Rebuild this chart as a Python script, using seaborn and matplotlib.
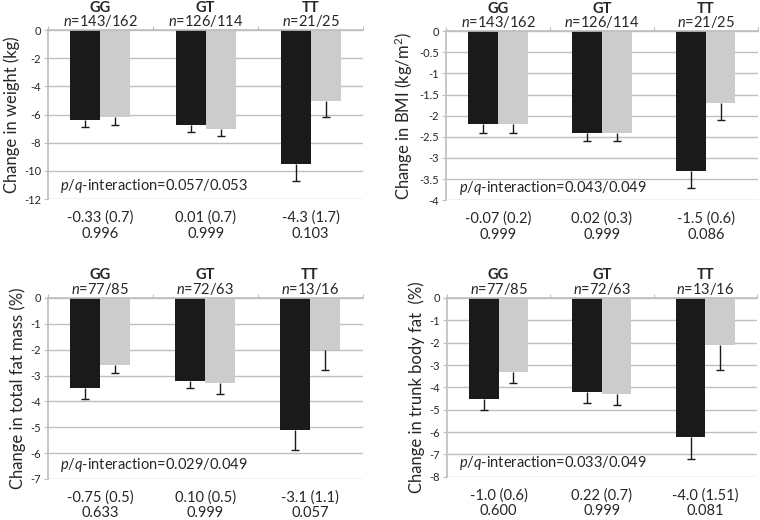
import pandas as pd
import seaborn as sns
import matplotlib.pyplot as plt

sns.set_theme(style="white")
plt.rcParams['font.family'] = ['Lato', 'DejaVu Sans']
plt.rcParams['axes.unicode_minus'] = False
plt.rcParams['mathtext.fontset'] = 'custom'
plt.rcParams['mathtext.it'] = 'Lato:italic'
plt.rcParams['mathtext.rm'] = 'Lato'

genotypes = ['GG', 'GT', 'TT']
diets = ['A', 'B']

# weight (kg)
weight_a = [-6.4, -6.7, -9.5]
weight_b = [-6.2, -7.0, -5.0]
weight_err_a = [0.5, 0.5, 1.2]
weight_err_b = [0.5, 0.5, 1.2]

# BMI (kg/m2)
bmi_a = [-2.2, -2.4, -3.3]
bmi_b = [-2.2, -2.4, -1.7]
bmi_err_a = [0.2, 0.2, 0.4]
bmi_err_b = [0.2, 0.2, 0.4]

# total fat mass (%)
fat_a = [-3.5, -3.2, -5.1]
fat_b = [-2.6, -3.3, -2.0]
fat_err_a = [0.4, 0.3, 0.8]
fat_err_b = [0.3, 0.4, 0.8]

# trunk body fat (%)
trunk_a = [-4.5, -4.2, -6.2]
trunk_b = [-3.3, -4.3, -2.1]
trunk_err_a = [0.5, 0.5, 1.0]
trunk_err_b = [0.5, 0.5, 1.1]

n_top = ['143/162', '126/114', '21/25']
n_bottom = ['77/85', '72/63', '13/16']

diff_weight = ['-0.33 (0.7)', '0.01 (0.7)', '-4.3 (1.7)']
q_weight = ['0.996', '0.999', '0.103']
diff_bmi = ['-0.07 (0.2)', '0.02 (0.3)', '-1.5 (0.6)']
q_bmi = ['0.999', '0.999', '0.086']
diff_fat = ['-0.75 (0.5)', '0.10 (0.5)', '-3.1 (1.1)']
q_fat = ['0.633', '0.999', '0.057']
diff_trunk = ['-1.0 (0.6)', '0.22 (0.7)', '-4.0 (1.51)']
q_trunk = ['0.600', '0.999', '0.081']

panels = [
    dict(a=weight_a, b=weight_b, ea=weight_err_a, eb=weight_err_b, n=n_top,
         diff=diff_weight, q=q_weight, ylim=-12, step=2,
         ylabel='Change in weight (kg)', inter='0.057/0.053',
         pos=[0.063, 0.617, 0.415, 0.325]),
    dict(a=bmi_a, b=bmi_b, ea=bmi_err_a, eb=bmi_err_b, n=n_top,
         diff=diff_bmi, q=q_bmi, ylim=-4, step=0.5,
         ylabel='Change in BMI (kg/m$^2$)', inter='0.043/0.049',
         pos=[0.587, 0.615, 0.410, 0.325]),
    dict(a=fat_a, b=fat_b, ea=fat_err_a, eb=fat_err_b, n=n_bottom,
         diff=diff_fat, q=q_fat, ylim=-7, step=1,
         ylabel='Change in total fat mass (%)', inter='0.029/0.049',
         pos=[0.063, 0.079, 0.414, 0.348]),
    dict(a=trunk_a, b=trunk_b, ea=trunk_err_a, eb=trunk_err_b, n=n_bottom,
         diff=diff_trunk, q=q_trunk, ylim=-8, step=1,
         ylabel='Change in trunk body fat  (%)', inter='0.033/0.049',
         pos=[0.588, 0.083, 0.408, 0.344]),
]

fig = plt.figure(figsize=(7.6, 5.2), dpi=100)
grid_col = '#bfbfbf'
fs = 10.5
px = 0.72  # points per pixel at 100 dpi

for p in panels:
    ax = fig.add_axes(p['pos'])
    df = pd.DataFrame({
        'Genotype': genotypes * 2,
        'Diet': [diets[0]] * 3 + [diets[1]] * 3,
        'Change': p['a'] + p['b'],
        'Err': p['ea'] + p['eb'],
    })
    sns.barplot(data=df, x='Genotype', y='Change', hue='Diet', order=genotypes,
                hue_order=diets, palette=['#1a1a1a', '#cccccc'], width=0.57,
                errorbar=None, legend=False, saturation=1, ax=ax, zorder=2,
                linewidth=0)

    # one-sided error bars below each bar
    for patch, (_, row) in zip(ax.patches, df.iterrows()):
        xc = patch.get_x() + patch.get_width() / 2
        yv = patch.get_y() + patch.get_height()
        y0 = min(patch.get_y(), yv)
        eb = ax.errorbar(xc, y0, yerr=[[row['Err']], [0]], fmt='none',
                         ecolor='#1a1a1a', elinewidth=1.0, capsize=3,
                         capthick=1.0, zorder=3)
        eb[1][1].set_visible(False)

    ax.set_ylim(p['ylim'], 0)
    ax.set_xlim(-0.5, 2.5)
    ticks = [p['ylim'] + i * p['step'] for i in range(int(round(-p['ylim'] / p['step'])) + 1)]
    ax.set_yticks(ticks)
    ax.set_yticklabels(['%g' % t for t in ticks], fontsize=8, color='#262626')
    ax.yaxis.grid(True, color=grid_col, linewidth=1.0, zorder=0)
    ax.set_axisbelow(True)
    ax.tick_params(axis='y', length=3, width=0.8, color=grid_col, left=True, pad=2)

    ax.set_xticks([-0.5, 0.5, 1.5, 2.5])
    ax.set_xticklabels([])
    ax.tick_params(axis='x', bottom=False, top=True, length=3, direction='out',
                   color=grid_col, width=0.8)
    ax.set_xlabel('')
    ax.set_ylabel(p['ylabel'], fontsize=12, labelpad=3)

    for side in ['right', 'bottom']:
        ax.spines[side].set_visible(False)
    ax.spines['top'].set_color(grid_col)
    ax.spines['left'].set_color(grid_col)

    for i, g in enumerate(genotypes):
        ax.annotate(g, (i, 1), xycoords=('data', 'axes fraction'),
                    xytext=(0, 18.5 * px), textcoords='offset points',
                    ha='center', va='baseline', fontsize=fs, fontweight='bold')
        ax.annotate('$\\it{n}$=' + p['n'][i], (i, 1), xycoords=('data', 'axes fraction'),
                    xytext=(0, 4 * px), textcoords='offset points',
                    ha='center', va='baseline', fontsize=fs)
        ax.annotate(p['diff'][i], (i, 0), xycoords=('data', 'axes fraction'),
                    xytext=(0, -23 * px), textcoords='offset points',
                    ha='center', va='baseline', fontsize=fs)
        ax.annotate(p['q'][i], (i, 0), xycoords=('data', 'axes fraction'),
                    xytext=(0, -38.5 * px), textcoords='offset points',
                    ha='center', va='baseline', fontsize=fs)

    ax.text(0.04, 0.075, '$\\it{p/q}$-interaction=' + p['inter'],
            transform=ax.transAxes, ha='left', va='center', fontsize=fs)

fig.savefig('out.png', dpi=100)
